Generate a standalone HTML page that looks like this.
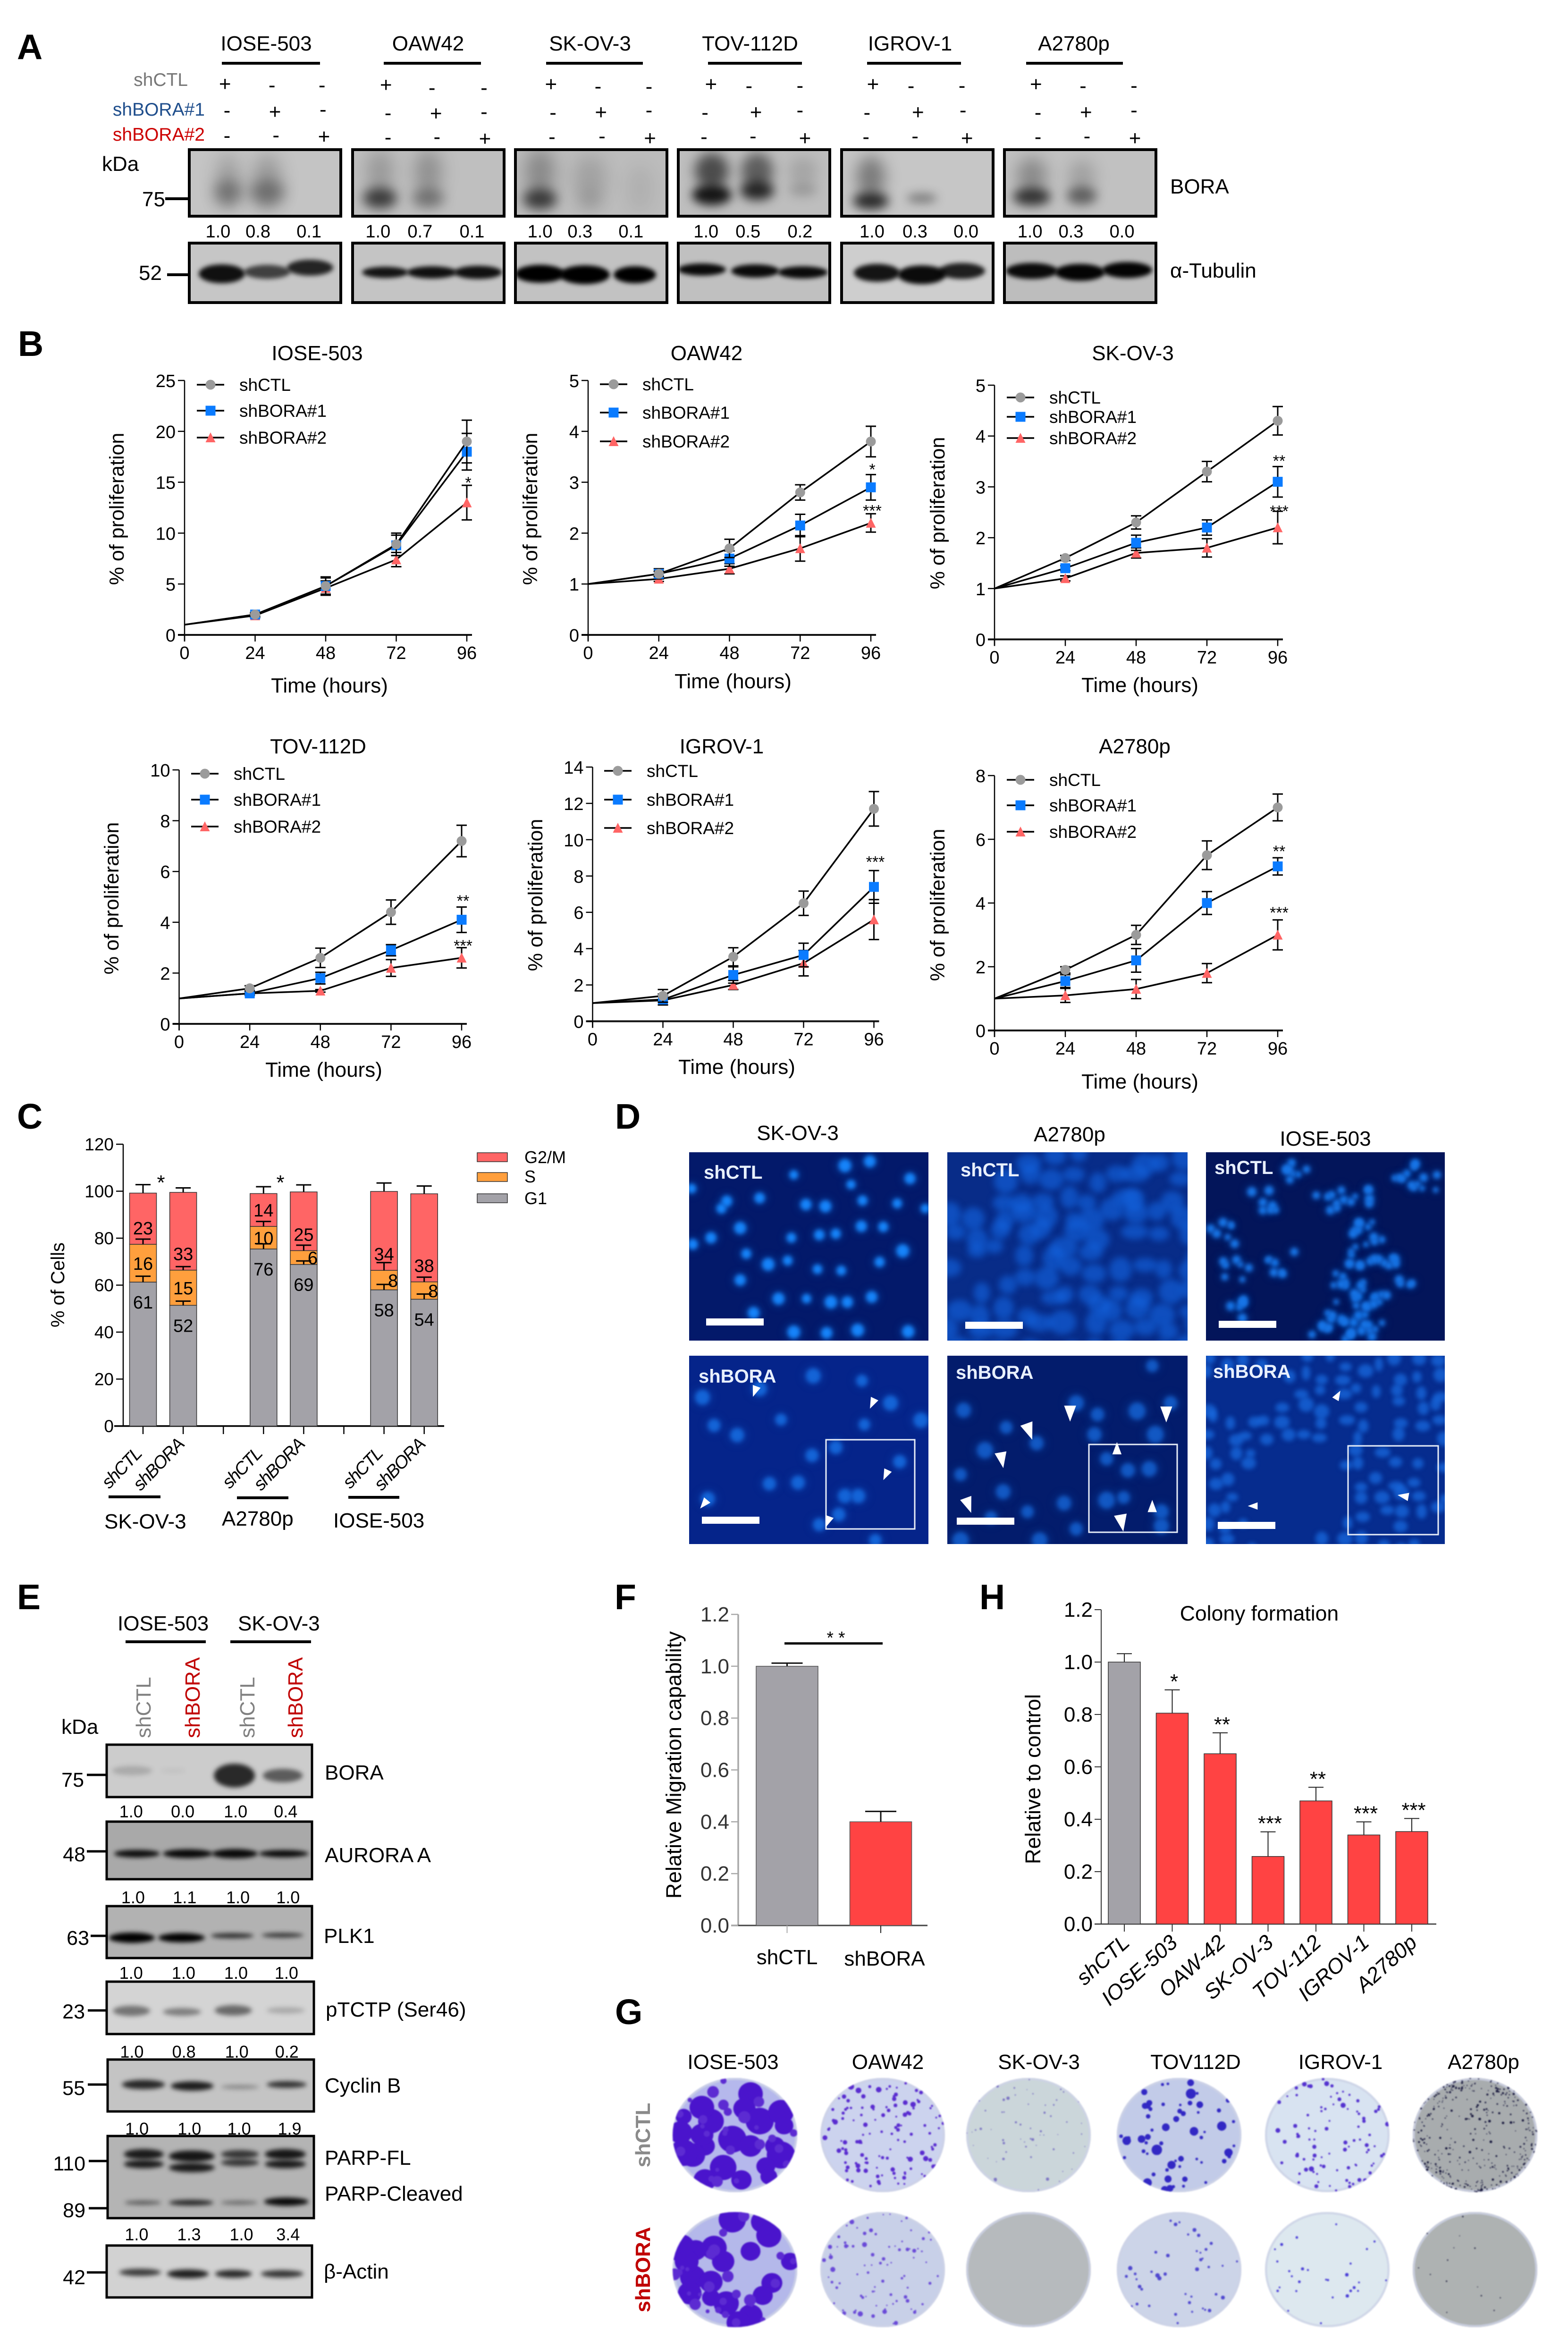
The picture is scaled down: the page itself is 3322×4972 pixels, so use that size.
<!DOCTYPE html>
<html lang="en">
<head>
<meta charset="utf-8">
<title>BORA knockdown multi-panel figure</title>
<style>
html,body{margin:0;padding:0;background:#fff}
#figure{position:relative;width:3322px;height:4972px;overflow:hidden;background:#fff}
#figure canvas{position:absolute;display:block;z-index:1}
#chart-layer{position:absolute;left:0;top:0;z-index:2}
text{font-family:"Liberation Sans",sans-serif;fill:#000}
.letter{font-size:75px;font-weight:bold}
</style>
</head>
<body>
<div id="figure">
<svg id="chart-layer" width="3322" height="4972" viewBox="0 0 3322 4972">
  <text class="letter" x="36" y="125">A</text>
  <text class="letter" x="38" y="754">B</text>
  <text class="letter" x="36" y="2391">C</text>
  <text class="letter" x="1303" y="2391">D</text>
  <text class="letter" x="36" y="3409">E</text>
  <text class="letter" x="1302" y="3409">F</text>
  <text class="letter" x="1303" y="4288">G</text>
  <text class="letter" x="2075" y="3409">H</text>
</svg>
</div>
<script>
/* ---------- chart data ---------- */
const hours=[0,24,48,72,96];
const seriesNames=['shCTL','shBORA#1','shBORA#2'];

const ioseTicks=[0,5,10,15,20,25];
const ioseCtl=[1,2,4.8,8.9,19];
const ioseCtlErr=[0,0.15,0.8,1.1,2.1];
const ioseB1=[1,2,4.8,8.8,18];
const ioseB1Err=[0,0.2,0.9,1.0,1.8];
const ioseB2=[1,1.9,4.6,7.4,13];
const ioseB2Err=[0,0.2,0.7,0.7,1.7];

const oawTicks=[0,1,2,3,4,5];
const oawCtl=[1,1.2,1.7,2.8,3.8];
const oawCtlErr=[0,0.05,0.18,0.15,0.3];
const oawB1=[1,1.2,1.5,2.15,2.9];
const oawB1Err=[0,0.1,0.15,0.22,0.25];
const oawB2=[1,1.1,1.3,1.7,2.2];
const oawB2Err=[0,0.05,0.1,0.25,0.18];

const skovTicks=[0,1,2,3,4,5];
const skovCtl=[1,1.6,2.3,3.3,4.3];
const skovCtlErr=[0,0.05,0.13,0.2,0.28];
const skovB1=[1,1.4,1.9,2.2,3.1];
const skovB1Err=[0,0.05,0.15,0.15,0.3];
const skovB2=[1,1.2,1.7,1.8,2.2];
const skovB2Err=[0,0.05,0.1,0.18,0.32];

const tovTicks=[0,2,4,6,8,10];
const tovCtl=[1,1.4,2.6,4.4,7.2];
const tovCtlErr=[0,0.1,0.38,0.48,0.62];
const tovB1=[1,1.2,1.8,2.9,4.1];
const tovB1Err=[0,0.08,0.23,0.22,0.5];
const tovB2=[1,1.2,1.3,2.2,2.6];
const tovB2Err=[0,0.05,0.05,0.33,0.4];

const igrovTicks=[0,2,4,6,8,10,12,14];
const igrovCtl=[1,1.4,3.55,6.5,11.7];
const igrovCtlErr=[0,0.35,0.5,0.67,0.95];
const igrovB1=[1,1.2,2.55,3.65,7.4];
const igrovB1Err=[0,0.3,0.45,0.65,0.9];
const igrovB2=[1,1.15,2,3.2,5.6];
const igrovB2Err=[0,0.25,0.25,0.7,1.1];

const a2780Ticks=[0,2,4,6,8];
const a2780Ctl=[1,1.9,3,5.5,7];
const a2780CtlErr=[0,0.1,0.3,0.45,0.42];
const a2780B1=[1,1.55,2.2,4,5.15];
const a2780B1Err=[0,0.2,0.37,0.36,0.27];
const a2780B2=[1,1.1,1.3,1.8,3];
const a2780B2Err=[0,0.22,0.3,0.3,0.47];

const cycleTicks=[0,20,40,60,80,100,120];
const cycleSlots=[0,1,3,4,6,7];
const cycleCategories=['shCTL','shBORA','shCTL','shBORA','shCTL','shBORA'];
const cycleG1=[61.3,51.4,75.4,68.8,58,54];
const cycleS=[16.1,15,9.6,5.9,8.3,7.4];
const cycleG2M=[21.8,33.1,14,25,33.6,37.5];
const cycleG1Err=[2.5,1.8,2.2,1.5,2.3,2.2];
const cycleSErr=[2.2,1.5,2.1,2.3,3.3,2];
const cycleG2MErr=[3.6,1.9,2.9,3,3.6,3.3];
const printedG1=['61','52','76','69','58','54'];
const printedS=['16','15','10','6','8','8'];
const printedG2M=['23','33','14','25','34','38'];

const migrationTicks=[0,0.2,0.4,0.6,0.8,1,1.2];
const migrationCategories=['shCTL','shBORA'];
const migrationValues=[1,0.4];
const migrationErr=[0.012,0.04];

const colonyTicks=[0,0.2,0.4,0.6,0.8,1,1.2];
const colonyCategories=['shCTL','IOSE-503','OAW-42','SK-OV-3','TOV-112','IGROV-1','A2780p'];
const colonyValues=[1,0.805,0.65,0.258,0.47,0.34,0.353];
const colonyErr=[0.032,0.089,0.08,0.094,0.052,0.05,0.05];
const colonyStars=['','*','**','***','**','***','***'];

/* ---------- helpers ---------- */
const fig=document.getElementById('figure');
const svg=document.getElementById('chart-layer');
const NS=svg.namespaceURI;
function add(parent,tag,attrs){
  const el=document.createElementNS(NS,tag);
  for(const k in attrs){el.setAttribute(k,attrs[k]);}
  parent.appendChild(el);
  return el;
}
function label(parent,x,y,str,size,extra){
  const el=add(parent,'text',Object.assign({x:x,y:y,'font-size':size},extra||{}));
  el.textContent=str;
  return el;
}
function seeded(s){return function(){s|=0;s=s+0x6D2B79F5|0;let t=Math.imul(s^s>>>15,1|s);t=t+Math.imul(t^t>>>7,61|t)^t;return((t^t>>>14)>>>0)/4294967296;};}
function photo(x,y,w,h,bg,name){
  const c=document.createElement('canvas');
  c.width=w;c.height=h;
  c.style.left=x+'px';c.style.top=y+'px';
  
  
  fig.appendChild(c);
  const ctx=c.getContext('2d');
  ctx.fillStyle=bg;ctx.fillRect(0,0,w,h);
  ctx.translate(-x,-y);
  return ctx;
}
function blob(ctx,cx,cy,rx,ry,color,blur){
  ctx.filter=blur?'blur('+blur+'px)':'none';
  ctx.fillStyle=color;
  ctx.beginPath();
  ctx.ellipse(cx,cy,rx,ry,0,0,Math.PI*2);
  ctx.fill();
  ctx.filter='none';
}
const ink=a=>'rgba(0,0,0,'+a+')';

/* ---------- panel A ---------- */
const panelA=add(svg,'g',{});


const aCells=['IOSE-503','OAW42','SK-OV-3','TOV-112D','IGROV-1','A2780p'];
const aCellX=[564,907,1250,1589,1928,2275];
const aBars=[[470,678],[813,1019],[1157,1362],[1500,1699],[1837,2036],[2174,2379]];
const aFrames=[398,744,1089,1434,1780,2125];
const aRatios=[['1.0','0.8','0.1'],['1.0','0.7','0.1'],['1.0','0.3','0.1'],['1.0','0.5','0.2'],['1.0','0.3','0.0'],['1.0','0.3','0.0']];
const aRatioZ=[[218,258,309],[378,420,472],[540,580,631],[706,748,800],[872,915,966],[1030,1071,1122]];
const pmX=[[[225,272,322],[227,275,323],[227,276,324]],[[386,432,484],[388,436,484],[388,437,485]],[[551,598,649],[553,601,649],[552,602,650]],[[711,749,800],[705,756,800],[704,753,805]],[[873,911,962],[867,918,963],[866,915,967]],[[1036,1083,1134],[1038,1086,1134],[1038,1087,1135]]];
const pmY=[[[398,410,410],[530,530,525],[650,647,647]],[[402,422,422],[542,538,536],[657,655,657]],[[399,415,417],[540,532,529],[655,652,655]],[[399,413,412],[540,532,529],[655,652,655]],[[399,413,412],[540,532,529],[655,652,655]],[[399,413,412],[540,532,529],[655,652,655]]];
const boraBg=['#c4c4c4','#bfbfbf','#bcbcbc','#bebebe','#c6c6c6','#c1c1c1'];
const tubBg=['#c6c6c6','#c4c4c4','#c2c2c2','#c0c0c0','#cecece','#bdbdbd'];
const boraBands=[
 [[483,385,24,58,.2,14],[483,408,30,26,.3,10],[566,385,30,58,.22,14],[566,408,38,26,.3,10]],
 [[805,365,28,48,.2,14],[805,420,36,22,.68,8],[907,365,28,48,.25,14],[907,420,34,20,.38,9]],
 [[1144,365,30,50,.28,14],[1144,422,36,22,.68,8],[1250,380,34,50,.14,14],[1250,425,26,22,.1,10],[1356,400,28,50,.06,12]],
 [[1508,362,36,38,.6,9],[1508,413,42,22,.88,6],[1604,362,34,38,.5,9],[1604,404,36,20,.78,7],[1701,362,30,28,.13,10],[1701,402,30,14,.18,7]],
 [[1845,375,30,44,.38,12],[1845,426,38,18,.78,7],[1953,420,32,10,.38,6]],
 [[2186,372,32,38,.28,12],[2186,417,40,19,.72,7],[2292,375,28,36,.17,12],[2292,415,32,19,.48,7]]
];
const tubBands=[
 [[470,580,42,18,.92],[566,576,42,13,.68],[657,567,42,15,.82]],
 [[816,577,42,10,.9],[915,577,46,11,.92],[1013,577,44,12,.92]],
 [[1144,580,46,17,1],[1239,582,46,18,1],[1345,582,38,16,1]],
 [[1487,571,44,11,.95],[1600,574,44,12,.95],[1701,577,46,11,.95]],
 [[1858,578,42,17,.9],[1953,582,44,18,.95],[2038,574,42,15,.85]],
 [[2186,574,48,15,.95],[2288,577,46,16,.98],[2388,572,46,15,.98]]
];
aCells.forEach(function(name,g){
  const title=label(panelA,aCellX[g],107,name,44,{'text-anchor':'middle'});
  
  
  const bar=add(panelA,'rect',{x:aBars[g][0],y:131,width:aBars[g][1]-aBars[g][0],height:6,fill:'#000'});
  
  
  [0,1,2].forEach(function(row){
    [0,1,2].forEach(function(col){
      const sym=row===col?'+':'-';
      const y=pmY[g][row][col]*0.4464+(sym==='+'?15:12);
      const t=label(panelA,pmX[g][row][col]*2.1186,y,sym,44,{'text-anchor':'middle'});
      
      
    });
  });
  aRatios[g].forEach(function(v,i){
    const t=label(panelA,aRatioZ[g][i]*2.1186,503,v,38,{'text-anchor':'middle'});
    
    
  });
  const c1=photo(aFrames[g],314,327,147,boraBg[g],'bora-blot-'+name);
  boraBands[g].forEach(function(b){blob(c1,b[0],b[1],b[2],b[3],ink(b[4]),b[5]+4);});
  const c2=photo(aFrames[g],512,327,132,tubBg[g],'tubulin-blot-'+name);
  tubBands[g].forEach(function(b){blob(c2,b[0],b[1],b[2]+7,b[3]+2,ink(b[4]),5);});
  [[314,147],[512,132]].forEach(function(f){
    const fr=add(panelA,'rect',{x:aFrames[g]+3,y:f[0]+3,width:321,height:f[1]-6,fill:'none',stroke:'#000','stroke-width':6});
    
    
  });
});
[['shCTL',398,182,'#777777'],['shBORA#1',434,245,'#1f4e8c'],['shBORA#2',434,298,'#cc0000']].forEach(function(r){
  const t=label(panelA,r[1],r[2],r[0],39,{'text-anchor':'end',style:'fill:'+r[3]});
  
  
});
[['kDa',216,362,'start'],['75',350,437,'end'],['52',343,593,'end'],['BORA',2479,410,'start'],['α-Tubulin',2479,588,'start']].forEach(function(r){
  const t=label(panelA,r[1],r[2],r[0],44,{'text-anchor':r[3]});
  
  
});
[[350,421],[354,582]].forEach(function(r){
  const m=add(panelA,'rect',{x:r[0],y:r[1]-3,width:398-r[0],height:6,fill:'#000'});
  
  
});

/* ---------- panel B ---------- */
function marker(g,kind,x,y,color){
  if(kind===0){return add(g,'circle',{cx:x,cy:y,r:10.5,fill:color});}
  if(kind===1){return add(g,'rect',{x:x-10.5,y:y-10.5,width:21,height:21,fill:color});}
  return add(g,'polygon',{points:(x-10.5)+','+(y+10)+' '+x+','+(y-11)+' '+(x+10.5)+','+(y+10),fill:color});
}
function drawProliferation(cfg){
  const colors=['#9b9b9b','#0a7bff','#ff6565'];
  const g=add(svg,'g',{});
  
  
  const xPos=h=>cfg.x0+h/96*(cfg.x96-cfg.x0);
  const yPos=v=>cfg.y0-v/cfg.ticks[cfg.ticks.length-1]*(cfg.y0-cfg.yTop);
  const title=label(g,cfg.titleX,cfg.titleY,cfg.title,44,{'text-anchor':'middle'});
  
  
  const xt=label(g,cfg.xLabelX,cfg.xLabelY,'Time (hours)',44,{'text-anchor':'middle'});
  
  
  const yt=label(g,cfg.yLabelX,cfg.yLabelY,'% of proliferation',43,{'text-anchor':'middle',transform:'rotate(-90 '+cfg.yLabelX+' '+cfg.yLabelY+')'});
  
  
  const yAxis=add(g,'line',{x1:cfg.x0,x2:cfg.x0,y1:cfg.yTop,y2:cfg.y0+14,stroke:'#000','stroke-width':2.5});
  
  
  const xAxis=add(g,'line',{x1:cfg.x0-14,x2:cfg.x96+11,y1:cfg.y0,y2:cfg.y0,stroke:'#111','stroke-width':4});
  
  
  cfg.ticks.forEach(function(v){
    const t=add(g,'line',{x1:cfg.x0-14,x2:cfg.x0,y1:yPos(v),y2:yPos(v),stroke:'#000','stroke-width':2.5});
    
    
    const l=label(g,cfg.x0-19,yPos(v)+14,String(v),38,{'text-anchor':'end'});
    
    
  });
  hours.forEach(function(h){
    const t=add(g,'line',{x1:xPos(h),x2:xPos(h),y1:cfg.y0,y2:cfg.y0+14,stroke:'#000','stroke-width':2.5});
    
    
    const l=label(g,xPos(h),cfg.y0+51,String(h),38,{'text-anchor':'middle'});
    
    
  });
  [2,1,0].forEach(function(s){
    const vals=cfg.values[s], errs=cfg.errors[s];
    const sg=add(g,'g',{});
    
    
    const line=add(sg,'polyline',{points:hours.map((h,i)=>xPos(h)+','+yPos(vals[i])).join(' '),fill:'none',stroke:'#000','stroke-width':3.5});
    
    
    hours.forEach(function(h,i){
      if(i===0){return;}
      const x=xPos(h),hi=yPos(vals[i]+errs[i]),lo=yPos(vals[i]-errs[i]);
      const eb=add(sg,'path',{d:'M'+(x-11)+' '+hi+'H'+(x+11)+'M'+x+' '+hi+'V'+lo+'M'+(x-11)+' '+lo+'H'+(x+11),fill:'none',stroke:'#000','stroke-width':3});
      
      
      const m=marker(sg,s,x,yPos(vals[i]),colors[s]);
      
      
    });
  });
  cfg.legendY.forEach(function(y,s){
    const ll=add(g,'line',{x1:cfg.legendX,x2:cfg.legendX+58,y1:y,y2:y,stroke:'#000','stroke-width':3.5});
    
    
    const lm=marker(g,s,cfg.legendX+29,y,colors[s]);
    
    
    const lt=label(g,cfg.legendX+90,y+13,seriesNames[s],37);
    
    
  });
  cfg.stars.forEach(function(st){
    const t=label(g,cfg.x96+3,yPos(st[1])+20,st[0],34,{'text-anchor':'middle'});
    
    
  });
}
drawProliferation({title:'IOSE-503',ticks:ioseTicks,values:[ioseCtl,ioseB1,ioseB2],errors:[ioseCtlErr,ioseB1Err,ioseB2Err],x0:391,x96:989,y0:1345,yTop:806,titleX:672,titleY:763,xLabelX:698,xLabelY:1467,yLabelX:262,yLabelY:1078,legendX:417,legendY:[815,870,927],stars:[['*',15.35]]});
drawProliferation({title:'OAW42',ticks:oawTicks,values:[oawCtl,oawB1,oawB2],errors:[oawCtlErr,oawB1Err,oawB2Err],x0:1246,x96:1845,y0:1345,yTop:806,titleX:1497,titleY:763,xLabelX:1553,xLabelY:1458,yLabelX:1138,yLabelY:1078,legendX:1271,legendY:[814,874,935],stars:[['*',3.33],['***',2.52]]});
drawProliferation({title:'SK-OV-3',ticks:skovTicks,values:[skovCtl,skovB1,skovB2],errors:[skovCtlErr,skovB1Err,skovB2Err],x0:2107,x96:2707,y0:1354.5,yTop:816,titleX:2400,titleY:763,xLabelX:2415,xLabelY:1466,yLabelX:2001,yLabelY:1087,legendX:2133,legendY:[842,883,928],stars:[['**',3.59],['***',2.6]]});
drawProliferation({title:'TOV-112D',ticks:tovTicks,values:[tovCtl,tovB1,tovB2],errors:[tovCtlErr,tovB1Err,tovB2Err],x0:379.5,x96:978,y0:2169,yTop:1631,titleX:674,titleY:1596,xLabelX:686,xLabelY:2281,yLabelX:251,yLabelY:1903,legendX:405,legendY:[1639,1694,1751],stars:[['**',5],['***',3.23]]});
drawProliferation({title:'IGROV-1',ticks:igrovTicks,values:[igrovCtl,igrovB1,igrovB2],errors:[igrovCtlErr,igrovB1Err,igrovB2Err],x0:1255.5,x96:1851.5,y0:2163.5,yTop:1625,titleX:1529,titleY:1596,xLabelX:1561,xLabelY:2275,yLabelX:1149,yLabelY:1896,legendX:1280,legendY:[1633,1694,1754],stars:[['***',9]]});
drawProliferation({title:'A2780p',ticks:a2780Ticks,values:[a2780Ctl,a2780B1,a2780B2],errors:[a2780CtlErr,a2780B1Err,a2780B2Err],x0:2107,x96:2707,y0:2183,yTop:1643,titleX:2404,titleY:1596,xLabelX:2415,xLabelY:2306,yLabelX:2001,yLabelY:1917,legendX:2133,legendY:[1652,1706,1762],stars:[['**',5.75],['***',3.82]]});

/* ---------- panel C ---------- */
(function(){
  const g=add(svg,'g',{});
  
  
  const yPos=v=>3021-v/120*(3021-2424);
  const slotX=i=>303+i*85.1;
  const barW=57;
  const phaseColors={g1:'#a3a2a8',s:'#ff9f3d',g2m:'#ff6565'};
  const yAxis=add(g,'line',{x1:261,x2:261,y1:2424,y2:3021,stroke:'#000','stroke-width':2.5});
  
  
  const xAxis=add(g,'line',{x1:242,x2:941,y1:3021,y2:3021,stroke:'#000','stroke-width':3.5});
  
  
  cycleTicks.forEach(function(v){
    const t=add(g,'line',{x1:246,x2:261,y1:yPos(v),y2:yPos(v),stroke:'#000','stroke-width':2.5});
    
    
    const l=label(g,241,yPos(v)+13,String(v),37,{'text-anchor':'end'});
    
    
  });
  [0,1,2,3,4,5,6,7].forEach(function(i){
    const t=add(g,'line',{x1:slotX(i),x2:slotX(i),y1:3021,y2:3038,stroke:'#000','stroke-width':2.5});
    
    
  });
  cycleSlots.forEach(function(slot,i){
    const x=slotX(slot)-barW/2;
    const a=cycleG1[i],b=a+cycleS[i],c=b+cycleG2M[i];
    [[0,a,phaseColors.g1,'bar-g1'],[a,b,phaseColors.s,'bar-s'],[b,c,phaseColors.g2m,'bar-g2m']].forEach(function(seg){
      const r=add(g,'rect',{x:x,y:yPos(seg[1]),width:barW,height:yPos(seg[0])-yPos(seg[1]),fill:seg[2],stroke:'#333','stroke-width':1.5});
      
      
    });
    [[a,cycleG1Err[i]],[b,cycleSErr[i]],[c,cycleG2MErr[i]]].forEach(function(e){
      const cx=slotX(slot),t=yPos(e[0]+e[1]);
      const eb=add(g,'path',{d:'M'+(cx-16)+' '+t+'H'+(cx+16)+'M'+cx+' '+t+'V'+yPos(e[0]),stroke:'#000','stroke-width':3,fill:'none'});
      
      
    });
    const cx=slotX(slot);
    const l1=label(g,cx,yPos(a)+42+14,printedG1[i],38,{'text-anchor':'middle'});
    
    
    const l2=label(g,cx+(cycleS[i]<9?19:0),(yPos(a)+yPos(b))/2+14,printedS[i],38,{'text-anchor':'middle'});
    
    
    const l3=label(g,cx,yPos(b)-35+14,printedG2M[i],38,{'text-anchor':'middle'});
    
    
    const isCtl=cycleCategories[i]==='shCTL';
    const tx=cx+(isCtl?-1:4),ty=isCtl?3082:3062;
    const xl=label(g,tx,ty,cycleCategories[i],38,{'text-anchor':'end','font-style':'italic','letter-spacing':'-2',transform:'rotate(-46 '+tx+' '+ty+')'});
    
    
  });
  const yt=label(g,136,2722,'% of Cells',40,{'text-anchor':'middle',transform:'rotate(-90 136 2722)'});
  
  
  [[341,2520],[594,2520]].forEach(function(p){
    const s=label(g,p[0],p[1],'*',44,{'text-anchor':'middle'});
    
    
  });
  [[230,340,3168,'SK-OV-3',221,3238],[502,611,3170,'A2780p',470,3232],[738,846,3169,'IOSE-503',706,3236]].forEach(function(r){
    const b=add(g,'rect',{x:r[0],y:r[2],width:r[1]-r[0],height:6,fill:'#000'});
    
    
    const t=label(g,r[4],r[5],r[3],44);
    
    
  });
  [['G2/M',2442,phaseColors.g2m,2464],['S',2484,phaseColors.s,2505],['G1',2529,phaseColors.g1,2551]].forEach(function(r){
    const sw=add(g,'rect',{x:1011,y:r[1],width:64,height:19,fill:r[2],stroke:'#333','stroke-width':1.5});
    
    
    const t=label(g,1111,r[3],r[0],36);
    
    
  });
})();

/* ---------- panel D (micrograph approximations) ---------- */
(function(){
  const zx=x=>1300+x*1.2895, zy=y=>2330+y*0.6059;
  const g=add(svg,'g',{});
  
  
  [['SK-OV-3',1690,2415],['A2780p',2266,2418],['IOSE-503',2808,2427]].forEach(function(r){
    const t=label(g,r[1],r[2],r[0],44,{'text-anchor':'middle'});
    
    
  });
  const frames=[
    [1460,2441,507,399,'#03196a','micrograph-skov3-shctl'],[2007,2441,509,399,'#082c88','micrograph-a2780p-shctl'],[2555,2441,506,399,'#03155a','micrograph-iose503-shctl'],
    [1460,2872,507,399,'#05248a','micrograph-skov3-shbora'],[2007,2872,509,399,'#031c6c','micrograph-a2780p-shbora'],[2555,2872,506,399,'#062c8e','micrograph-iose503-shbora']
  ];
  const ctxs=frames.map(f=>photo(f[0],f[1],f[2],f[3],f[4],f[5]));
  function nucleus(ctx,x,y,r,color){
    blob(ctx,x,y,r*1.5,r*1.4,color.replace('1)','0.28)'),8);
    blob(ctx,x,y,r*1.02,r*1.05,color,4);
  }
  const rnd=seeded(7);
  [[296,262],[390,296],[380,230],[421,215],[487,275],[240,343],[186,354],[177,380],[316,366],[348,372],[409,352],[466,362],[208,448],[160,482],[292,482],[338,472],[365,468],[407,442],[443,444],[475,528],[218,538],[254,575],[286,562],[335,592],[374,597],[437,567],[208,630],[271,695],[317,695],[357,707],[384,707],[424,689],[230,745],[296,812],[350,815],[401,805],[484,810],[512,380],[128,310],[130,505]].forEach(function(p){
    nucleus(ctxs[0],zx(p[0]),zy(p[1]),9+rnd()*4,'rgba(22,132,250,1)');
  });
  for(let gx=2000;gx<2520;gx+=50){
    for(let gy=2440;gy<2845;gy+=40){
      if(rnd()<0.22||(gx<2090&&gy<2520)){continue;}
      blob(ctxs[1],gx+rnd()*36,gy+rnd()*30,17+rnd()*13,15+rnd()*12,'rgba(20,100,225,0.62)',7);
    }
  }
  [[1300,260],[1330,300],[1220,350],[1230,430],[1220,540],[1270,520],[1210,610],[1290,610],[1200,680],[1250,700],[1220,740],[1170,780],[1020,590],[1095,570],[1070,350],[1175,345],[1030,740],[1120,240],[1000,460],[1250,800],[1190,810]].forEach(function(p){
    for(let k=0;k<7;k++){
      nucleus(ctxs[2],zx(p[0])+(rnd()-0.5)*62,zy(p[1])+(rnd()-0.5)*52,5.5+rnd()*4,'rgba(24,118,232,1)');
    }
  });
  [[328,965],[408,982],[146,1040],[240,1010],[455,1060],[275,1118],[412,1135],[165,1138],[203,1172],[326,1243],[365,1215],[470,1265],[256,1342],[303,1338],[380,1385],[402,1385],[155,1395],[370,1450],[338,1485],[430,1540],[505,1120]].forEach(function(p){
    nucleus(ctxs[3],zx(p[0]),zy(p[1]),11+rnd()*4,'rgba(20,100,215,1)');
  });
  [[575,1085],[645,1145],[610,1225],[860,1088],[795,1100],[695,1200],[570,1310],[640,1370],[740,1410],[810,1255],[880,1290],[845,1295],[890,1170],[790,1170],[760,1060],[810,1400],[838,1390],[900,1440],[915,1060],[885,930],[570,1540],[680,1440],[700,1540],[760,1500],[900,1490],[620,1460]].forEach(function(p){
    nucleus(ctxs[4],zx(p[0]),zy(p[1]),12+rnd()*5,'rgba(18,88,195,1)');
  });
  for(let gx=2552;gx<3065;gx+=40){
    for(let gy=2872;gy<3275;gy+=32){
      const a=(gx-2731)/115,b=(gy-3158)/115,c=(gx-2628)/85,d=(gy-2936)/62;
      if(a*a+b*b<1||c*c+d*d<1||rnd()<0.16){continue;}
      blob(ctxs[5],gx+rnd()*28,gy+rnd()*24,9+rnd()*8,9+rnd()*7,'rgba(26,112,232,0.68)',5);
    }
  }
  [['shCTL',1491,2497],['shCTL',2035,2492],['shCTL',2573,2487],['shBORA',1480,2929],['shBORA',2025,2921],['shBORA',2570,2919]].forEach(function(r){
    const t=label(g,r[1],r[2],r[0],40,{'font-weight':'bold',style:'fill:#e8f0ff'});
    
    
  });
  [[1496,2793],[2045,2800],[2582,2798],[1487,3213],[2027,3215],[2580,3224]].forEach(function(r){
    const b=add(g,'rect',{x:r[0],y:r[1],width:122,height:15,fill:'#fff'});
    
    
  });
  [[1750,3050,188,189],[2307,3060,187,186],[2856,3063,191,188]].forEach(function(r){
    const b=add(g,'rect',{x:r[0],y:r[1],width:r[2],height:r[3],fill:'none',stroke:'#e8eef8','stroke-width':3});
    
    
  });
  [[232,1020,110,9],[425,1062,115,9],[447,1312,115,9],[148,1414,130,9],[352,1475,110,9],[750,1097,90,13],[908,1100,90,13],[683,1160,70,14],[638,1260,80,13],[583,1418,70,13],[827,1218,270,10],[885,1420,270,10],[835,1480,80,14],[1190,1032,300,8],[1050,1420,180,8],[1297,1385,190,9]].forEach(function(a){
    const x=zx(a[0]),y=zy(a[1]),rad=a[2]*Math.PI/180,s=a[3]*1.3;
    const ux=Math.cos(rad),uy=Math.sin(rad);
    const pts=[[x+ux*s,y+uy*s],[x-ux*s-uy*s*0.75,y-uy*s+ux*s*0.75],[x-ux*s+uy*s*0.75,y-uy*s-ux*s*0.75]];
    const p=add(g,'polygon',{points:pts.map(q=>q.join(',')).join(' '),fill:'#fff'});
    
    
  });
})();

/* ---------- panel E ---------- */
(function(){
  const zx=x=>x*0.8291, zy=y=>3330+y*1.0472;
  const g=add(svg,'g',{});
  
  
  const blots=[
    ['BORA',224,3694,439,115,'#cccccc',[[290,385,402,18,.16],[415,470,402,8,.05],[550,648,412,46,.8],[675,770,412,26,.55]]],
    ['AURORA A',224,3857,439,126,'#a9a9a9',[[295,405,570,15,.92],[420,540,570,17,.95],[545,655,570,18,.95],[665,785,570,14,.95]]],
    ['PLK1',224,4036,439,114,'#b2b2b2',[[282,392,740,20,1],[408,520,740,18,1],[542,645,736,10,.75],[672,772,735,9,.7]]],
    ['pTCTP',224,4196,443,115,'#d4d4d4',[[292,380,888,20,.45],[420,510,890,15,.4],[552,640,887,20,.5],[685,775,887,12,.2]]],
    ['Cyclin B',226,4361,441,114,'#c4c4c4',[[315,418,1037,18,.8],[440,542,1040,18,.85],[568,658,1042,8,.3],[685,780,1037,13,.75]]],
    ['PARP',226,4523,441,178,'#b4b4b4',[[320,415,1178,20,.85],[320,415,1198,16,.85],[435,545,1182,22,.88],[435,545,1205,18,.85],[568,658,1178,16,.7],[568,658,1195,14,.7],[680,778,1178,20,.88],[680,778,1198,16,.85],[322,408,1276,8,.5],[435,542,1276,11,.8],[568,655,1276,8,.4],[678,785,1274,16,.95]]],
    ['beta-Actin',224,4755,439,114,'#d2d2d2',[[308,408,1417,14,.72],[430,530,1420,17,.85],[553,640,1420,15,.8],[670,772,1420,14,.75]]]
  ];
  blots.forEach(function(b){
    const c=photo(b[1],b[2],b[3],b[4],b[5],'blot-'+b[0]);
    b[6].forEach(function(s){
      blob(c,(zx(s[0])+zx(s[1]))/2,zy(s[2]),(zx(s[1])-zx(s[0]))/2+3,s[3]*0.55,ink(s[4]),5);
    });
    const fr=add(g,'rect',{x:b[1]+2,y:b[2]+2,width:b[3]-4,height:b[4]-4,fill:'none',stroke:'#000','stroke-width':5});
    
    
  });
  [['IOSE-503',249,3454],['SK-OV-3',504,3454],['kDa',130,3673]].forEach(function(r){
    const t=label(g,r[1],r[2],r[0],44);
    
    
  });
  [[266,436],[488,659]].forEach(function(r){
    const b=add(g,'rect',{x:r[0],y:3475,width:r[1]-r[0],height:6,fill:'#000'});
    
    
  });
  [['shCTL',319,'#808080'],['shBORA',423,'#c00000'],['shCTL',539,'#808080'],['shBORA',641,'#c00000']].forEach(function(r){
    const t=label(g,r[1],3682,r[0],44,{transform:'rotate(-90 '+r[1]+' 3682)',style:'fill:'+r[2]});
    
    
  });
  [['75',178,3785,184,3760,224],['48',181,3943,184,3922,224],['63',189,4120,192,4101,224],['23',180,4276,186,4259,224],['55',180,4438,186,4416,226],['110',181,4598,188,4578,226],['89',181,4697,188,4678,226],['42',181,4839,184,4814,224]].forEach(function(r){
    const t=label(g,r[1],r[2],r[0],43,{'text-anchor':'end'});
    
    
    const m=add(g,'rect',{x:r[3],y:r[4]-2.5,width:r[5]-r[3],height:5,fill:'#000'});
    
    
  });
  [['BORA',688,3770],['AURORA A',688,3945],['PLK1',686,4116],['pTCTP (Ser46)',690,4272],['Cyclin B',688,4433],['PARP-FL',688,4586],['PARP-Cleaved',688,4662],['β-Actin',686,4827]].forEach(function(r){
    const t=label(g,r[1],r[2],r[0],44);
    
    
  });
  [[3850,[335,467,602,730],['1.0','0.0','1.0','0.4']],[4032,[340,472,608,736],['1.0','1.1','1.0','1.0']],[4192,[335,469,603,732],['1.0','1.0','1.0','1.0']],[4359,[337,470,605,733],['1.0','0.8','1.0','0.2']],[4522,[350,484,611,740],['1.0','1.0','1.0','1.9']],[4746,[349,483,617,736],['1.0','1.3','1.0','3.4']]].forEach(function(row){
    row[2].forEach(function(v,i){
      const t=label(g,zx(row[1][i]),row[0],v,36,{'text-anchor':'middle'});
      
      
    });
  });
})();

/* ---------- panel F ---------- */
(function(){
  const g=add(svg,'g',{});
  
  
  const yPos=v=>4079-v/1.2*(4079-3420);
  const centers=[1667.5,1866];
  const fills=['#a3a2a8','#ff4343'];
  const yAxis=add(g,'line',{x1:1564,x2:1564,y1:3420,y2:4079,stroke:'#a8a8a8','stroke-width':3.5});
  
  
  const xAxis=add(g,'line',{x1:1549,x2:1965,y1:4079,y2:4079,stroke:'#444','stroke-width':3});
  
  
  migrationTicks.forEach(function(v){
    const t=add(g,'line',{x1:1549,x2:1564,y1:yPos(v),y2:yPos(v),stroke:'#a8a8a8','stroke-width':2.5});
    
    
    const l=label(g,1545,yPos(v)+15,v.toFixed(1),44,{'text-anchor':'end',style:'fill:#333'});
    
    
  });
  migrationValues.forEach(function(v,i){
    const b=add(g,'rect',{x:centers[i]-65.5,y:yPos(v),width:131,height:yPos(0)-yPos(v),fill:fills[i],stroke:'#555','stroke-width':1.5});
    
    
    const top=yPos(v+migrationErr[i]);
    const e=add(g,'path',{d:'M'+(centers[i]-33)+' '+top+'H'+(centers[i]+33)+'M'+centers[i]+' '+top+'V'+yPos(v),stroke:'#111','stroke-width':3,fill:'none'});
    
    
    const t=add(g,'line',{x1:centers[i],x2:centers[i],y1:4079,y2:4095,stroke:i?'#222':'#aaa','stroke-width':2});
    
    
    const l=label(g,centers[i]+(i?8:0),4161+(i?3:0),migrationCategories[i],44,{'text-anchor':'middle'});
    
    
  });
  const sl=add(g,'rect',{x:1662,y:3479,width:208,height:5,fill:'#111'});
  
  
  const st=label(g,1771,3482,'* *',37,{'text-anchor':'middle'});
  
  
  const yt=label(g,1443,3739,'Relative Migration capability',45.5,{'text-anchor':'middle',transform:'rotate(-90 1443 3739)'});
  
  
})();

/* ---------- panel H ---------- */
(function(){
  const g=add(svg,'g',{});
  
  
  const yPos=v=>4076-v/1.2*(4076-3410);
  const xPos=i=>2382+i*101.5;
  const title=label(g,2668,3433,'Colony formation',44.5,{'text-anchor':'middle'});
  
  
  const yt=label(g,2204,3769,'Relative to control',45,{'text-anchor':'middle',transform:'rotate(-90 2204 3769)'});
  
  
  const yAxis=add(g,'line',{x1:2333,x2:2333,y1:3410,y2:4076,stroke:'#333','stroke-width':2});
  
  
  const xAxis=add(g,'line',{x1:2319,x2:3043,y1:4076,y2:4076,stroke:'#333','stroke-width':2.5});
  
  
  colonyTicks.forEach(function(v){
    const t=add(g,'line',{x1:2319,x2:2333,y1:yPos(v),y2:yPos(v),stroke:'#333','stroke-width':2});
    
    
    const l=label(g,2315,yPos(v)+15,v.toFixed(1),44,{'text-anchor':'end'});
    
    
  });
  colonyValues.forEach(function(v,i){
    const cx=xPos(i);
    const b=add(g,'rect',{x:cx-34,y:yPos(v),width:68,height:yPos(0)-yPos(v),fill:i?'#ff4343':'#a3a2a8',stroke:'#333','stroke-width':1.5});
    
    
    const top=yPos(v+colonyErr[i]);
    const e=add(g,'path',{d:'M'+(cx-16)+' '+top+'H'+(cx+16)+'M'+cx+' '+top+'V'+yPos(v),stroke:'#222','stroke-width':2,fill:'none'});
    
    
    const t=add(g,'line',{x1:cx,x2:cx,y1:4076,y2:4092,stroke:'#333','stroke-width':2});
    
    
    const tx=cx+14,ty=4119;
    const l=label(g,tx,ty,colonyCategories[i],45,{'text-anchor':'end','font-style':'italic',transform:'rotate(-42 '+tx+' '+ty+')'});
    
    
    if(colonyStars[i]){
      const s=label(g,cx+4,top-3,colonyStars[i],44,{'text-anchor':'middle'});
      
      
    }
  });
})();

/* ---------- panel G (dish photo approximations) ---------- */
(function(){
  const g=add(svg,'g',{});
  
  
  [['IOSE-503',1553],['OAW42',1881],['SK-OV-3',2201],['TOV112D',2533],['IGROV-1',2840],['A2780p',3143]].forEach(function(r){
    const t=label(g,r[1],4383,r[0],44,{'text-anchor':'middle'});
    
    
  });
  const shctl=label(g,1377,4523,'shCTL',44,{'text-anchor':'middle','font-weight':'bold',transform:'rotate(-90 1377 4523)',style:'fill:#8a8a8a'});
  
  
  const shbora=label(g,1377,4808,'shBORA',44,{'text-anchor':'middle','font-weight':'bold',transform:'rotate(-90 1377 4808)',style:'fill:#c00000'});
  
  
  const zx=x=>1300+x*1.2895, zy=y=>4220+y*0.4796;
  const big=[
    [[225,450],[215,515],[240,570],[275,530],[280,590],[110,620],[150,680],[130,720],[195,650],[225,680],[265,680],[275,720],[180,775],[210,830],[250,770],[145,630],[160,570],[145,510],[115,550],[150,830],[115,710],[255,815]],
    [[195,1005],[245,1015],[255,1075],[165,1130],[225,1145],[135,1140],[110,1130],[290,1190],[130,1260],[160,1280],[180,1190],[260,1285],[245,1340],[160,1350],[185,1375],[125,1330],[225,1430],[205,1460],[120,1190]]
  ];
  const plateCx=[1557,1870,2179,2498,2812,3125];
  const plateNames=['iose503','oaw42','skov3','tov112d','igrov1','a2780p'];
  const plateBg=[['#b5b8ec','#ccd3ee','#cbd6da','#c2cbe8','#d8e3f1','#a8acae'],['#b4b8ea','#c8d0e8','#b6babd','#ccd4e8','#dde8ef','#aeb2b2']];
  const plateDot=[['#4a14cc','#5a2cd0','#7d76c4','#3228c4','#5533d0','#14143a'],['#4a14cc','#6a4ad8','#6d62c0','#5048d0','#4a3ed8','#202040']];
  const plateCount=[[0,120,60,60,90,380],[0,85,0,42,28,14]];
  const plateRmin=[[2,2,1,2.5,2,1],[2,1.5,1,2,2,1]];
  const plateRmax=[[2,7,4,12,6,3],[2,6,1,5,4,2]];
  const rnd=seeded(42);
  [[4523,121],[4808,122]].forEach(function(rowCfg,row){
    plateCx.forEach(function(cx,col){
      const cy=rowCfg[0],ry=rowCfg[1],rx=132;
      const c=photo(cx-136,cy-126,272,252,'#ffffff','plate-'+plateNames[col]+'-'+(row?'shbora':'shctl'));
      c.canvas.style.filter='blur(1.4px)';
      c.save();
      c.beginPath();c.ellipse(cx,cy,rx,ry,0,0,Math.PI*2);c.clip();
      c.fillStyle=plateBg[row][col];c.fillRect(cx-136,cy-126,272,252);
      c.strokeStyle='rgba(205,210,230,0.8)';c.lineWidth=5;
      c.beginPath();c.ellipse(cx,cy,rx-2,ry-2,0,0,Math.PI*2);c.stroke();
      if(col===0){
        big[row].forEach(function(p){
          const r=17+rnd()*15;
          c.fillStyle=plateDot[row][0];
          c.beginPath();c.ellipse(zx(p[0]),zy(p[1]),r,r*0.95,0,0,Math.PI*2);c.fill();
        });
        for(let k=0;k<25;k++){
          const a=rnd()*6.283,d=Math.sqrt(rnd());
          c.fillStyle='#5c2bd2';
          c.beginPath();c.arc(cx+Math.cos(a)*d*rx,cy+Math.sin(a)*d*ry,4+rnd()*9,0,6.283);c.fill();
        }
      }else{
        for(let k=0;k<plateCount[row][col];k++){
          const a=rnd()*6.283;
          let d=Math.sqrt(rnd());
          if(col===5&&row===0&&k%2){d=0.8+rnd()*0.2;}
          const r=plateRmin[row][col]+rnd()*rnd()*(plateRmax[row][col]-plateRmin[row][col]);
          c.fillStyle=plateDot[row][col];
          c.beginPath();c.arc(cx+Math.cos(a)*d*rx,cy+Math.sin(a)*d*ry,r,0,6.283);c.fill();
        }
      }
      c.restore();
    });
  });
})();
</script>
</body>
</html>
